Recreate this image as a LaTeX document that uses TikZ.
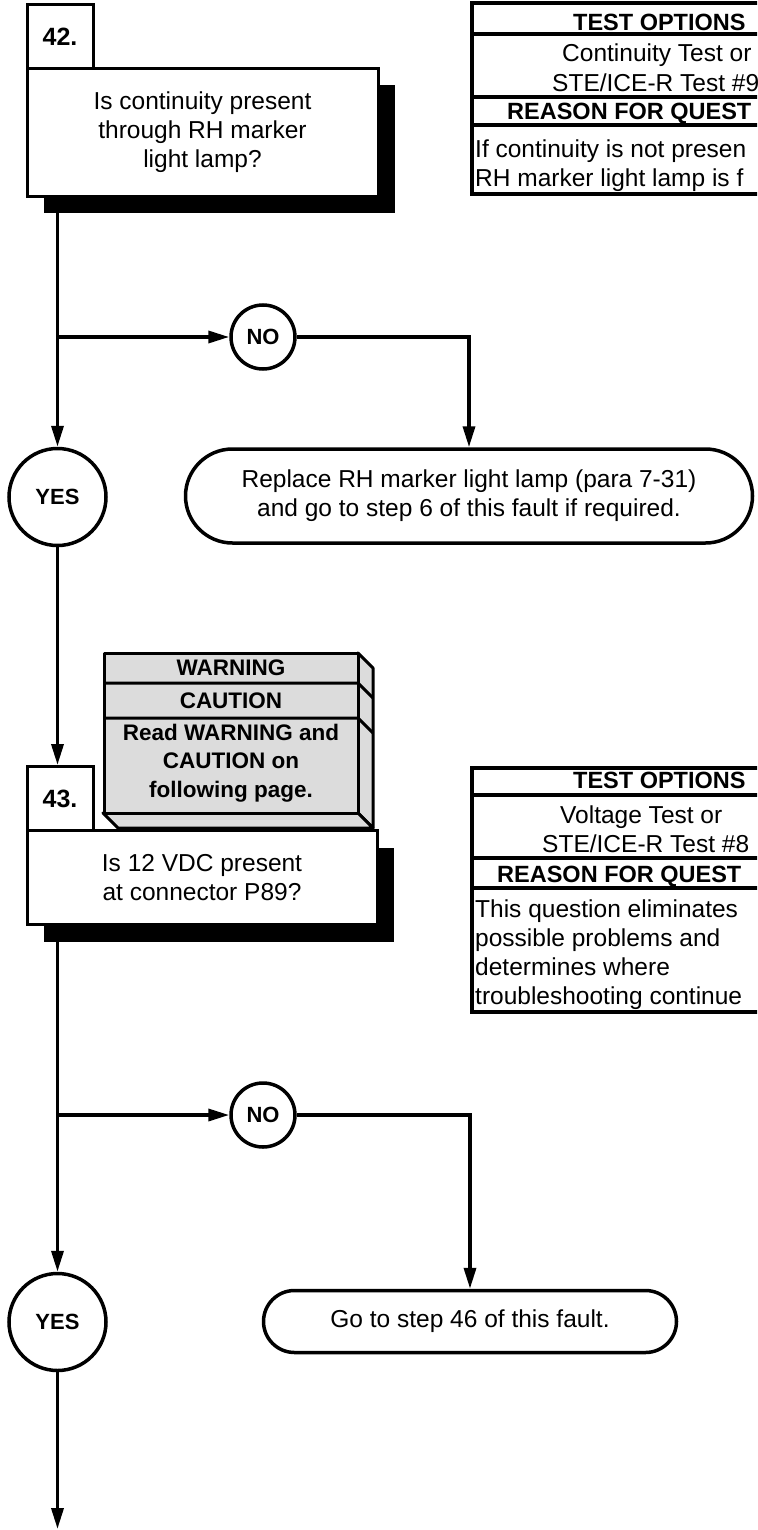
\documentclass[tikz,border=0pt]{standalone}
\usepackage{fontspec}
\setmainfont{Liberation Sans}
\usetikzlibrary{arrows.meta,shapes.misc,shadows,calc}
\definecolor{warnfill}{RGB}{220,220,220}
\newcommand{\myBody}{\fontsize{24.5}{29}\selectfont}
\newcommand{\myHead}{\fontsize{23.5}{28}\selectfont\bfseries}
\newcommand{\myCirc}{\fontsize{22}{26}\selectfont\bfseries}
\newcommand{\myLab}{\fontsize{25}{30}\selectfont\bfseries}
\newcommand{\myWarn}{\fontsize{22.5}{28.5}\selectfont\bfseries}
\begin{document}
\begin{tikzpicture}[x=1pt,y=-1pt,
  conn/.style={line width=3.5pt},
  arr/.style={conn,-{Triangle[length=21pt,width=12pt]}},
  qbox/.style={draw,line width=3pt,fill=white,anchor=north west,align=center,font=\myBody,inner sep=0pt,
    drop shadow={shadow xshift=17pt,shadow yshift=-17pt,opacity=1,fill=black}},
  lbox/.style={draw,line width=3pt,fill=white,anchor=north west,font=\myLab,inner sep=0pt,minimum width=66pt,minimum height=64pt},
  circ/.style={circle,draw,line width=3.5pt,fill=white,font=\myCirc,inner sep=0pt},
  term/.style={rounded rectangle,draw,line width=3.5pt,fill=white,align=center,font=\myBody,inner sep=0pt},
  tbox/.style={line width=4pt},
  thead/.style={anchor=base west,inner sep=0pt,font=\myHead},
  ttext/.style={anchor=base west,inner sep=0pt,font=\myBody},
  wtext/.style={inner sep=0pt,font=\myWarn,align=center},
  wface/.style={fill=warnfill,draw,line width=3pt,line join=round}
]
\useasboundingbox (0,0) rectangle (757,1530);
\clip (0,0) rectangle (757,1530);

% ---------- Test options box 1 ----------
\draw[tbox] (472,3.5) rectangle (870,194);
\draw[tbox] (472,34) -- (870,34);
\draw[tbox] (472,97) -- (870,97);
\draw[tbox] (472,125) -- (870,125);
\node[thead] (to1) at (573,31) {TEST OPTIONS};
\node[ttext] (to1a) at (562,62) {Continuity Test or};
\node[ttext] (to1b) at (552,92) {STE/ICE-R Test \#9};
\node[thead] (rq1) at (507,120) {REASON FOR QUEST};
\node[ttext] (rq1a) at (475,158) {If continuity is not presen};
\node[ttext] (rq1b) at (475,187) {RH marker light lamp is f};

% ---------- Step 42 ----------
\node[qbox,minimum width=351pt,minimum height=128pt] (q42) at (25.5,67) {Is continuity present\\through RH marker\\light lamp?};
\node[lbox] (n42) at (25.5,3.5) {42.};

\node[circ,minimum size=64pt] (no1) at (263,337) {NO};
\node[circ,minimum size=97pt] (yes1) at (57.5,497) {YES};
\node[term,minimum width=567pt,minimum height=94pt] (t1) at (469,496) {Replace RH marker light lamp (para 7-31)\\and go to step 6 of this fault if required.};

\draw[arr] (q42.south west -| yes1.north) -- (yes1.north);
\draw[arr] (no1.west -| yes1) -- (no1.west);
\draw[arr] (no1.east) -| (t1.north);

% ---------- Step 43 ----------
\node[qbox,minimum width=350pt,minimum height=94pt] (q43) at (25.5,829) {Is 12 VDC present\\at connector P89?};
\node[lbox] (n43) at (25.5,765) {43.};

% warning / caution block
\path[wface] (358,653) -- (373,668) -- (373,828) -- (358,813) -- cycle;
\path[wface] (103,813) -- (358,813) -- (373,828) -- (118,828) -- cycle;
\path[wface] (104,653) rectangle (358,813);
\draw[line width=3pt,line join=round] (104,683) -- (358,683) -- (373,698);
\draw[line width=3pt,line join=round] (104,718) -- (358,718) -- (373,733);
\node[wtext] (ww) at (231,668) {WARNING};
\node[wtext] (wc) at (231,700.5) {CAUTION};
\node[wtext] (wb) at (231,763) {Read WARNING and\\CAUTION on\\following page.};

\draw[arr] (yes1.south) -- (n43.north -| yes1.south);

% ---------- Test options box 2 ----------
\draw[tbox] (472,768) rectangle (870,1012);
\draw[tbox] (472,795) -- (870,795);
\draw[tbox] (472,858) -- (870,858);
\draw[tbox] (472,888) -- (870,888);
\node[thead] (to2) at (573,788) {TEST OPTIONS};
\node[ttext] (to2a) at (560,823) {Voltage Test or};
\node[ttext] (to2b) at (542,852) {STE/ICE-R Test \#8};
\node[thead] (rq2) at (497,882) {REASON FOR QUEST};
\node[ttext] (rq2a) at (475,917) {This question eliminates};
\node[ttext] (rq2b) at (475,946) {possible problems and};
\node[ttext] (rq2c) at (475,975) {determines where};
\node[ttext] (rq2d) at (475,1004) {troubleshooting continue};

\node[circ,minimum size=64pt] (no2) at (263,1115) {NO};
\node[circ,minimum size=97pt] (yes2) at (57.5,1322) {YES};
\node[term,minimum width=413pt,minimum height=62pt] (t2) at (470,1321.5) {Go to step 46 of this fault.};
\coordinate (endpt) at (57.5,1529);

\draw[arr] (q43.south west -| yes2.north) -- (yes2.north);
\draw[arr] (no2.west -| yes2) -- (no2.west);
\draw[arr] (no2.east) -| (t2.north);
\draw[arr] (yes2.south) -- (endpt);
\end{tikzpicture}
\end{document}
